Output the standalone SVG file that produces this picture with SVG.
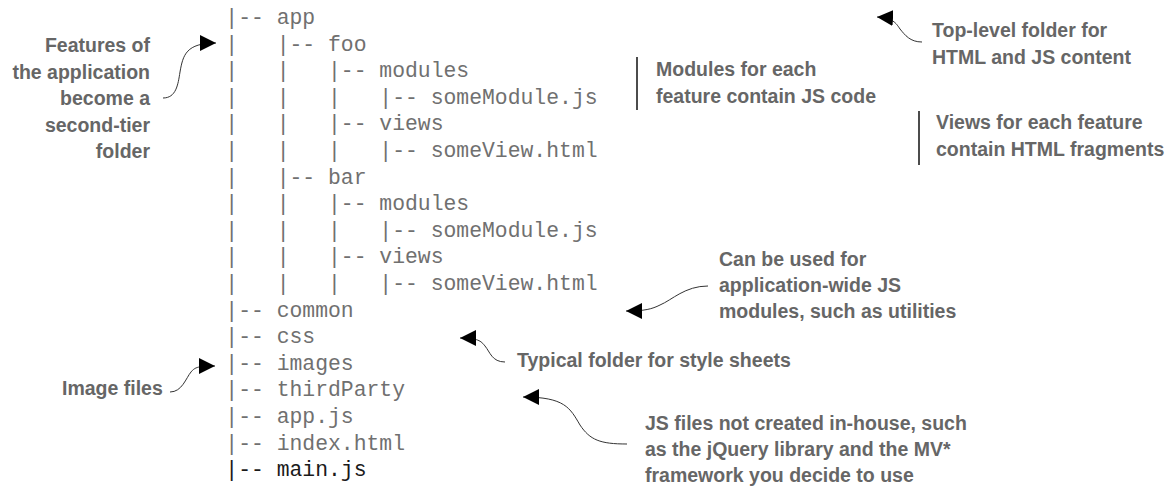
<svg xmlns="http://www.w3.org/2000/svg" width="1169" height="489" viewBox="0 0 1169 489">
<style>
.tree{font-family:"Liberation Mono","Courier New",monospace;font-size:21.4px;fill:#707070}
.tree .last{fill:#1a1a1a}
.note{font-family:"Liberation Sans",Arial,sans-serif;font-weight:bold;font-size:19.5px;fill:#666666}
.conn path{fill:none;stroke:#333333;stroke-width:1;marker-end:url(#ah)}
.bar{stroke:#111111;stroke-width:1.5}
</style>
<defs>
<marker id="ah" markerUnits="userSpaceOnUse" markerWidth="16" markerHeight="16" viewBox="0 0 14 14" refX="14" refY="7" orient="auto">
<path d="M0,0 L14,7 L0,14 Z" fill="#000000"/>
</marker>
</defs>
<rect width="1169" height="489" fill="#ffffff"/>
<g id="tree" class="tree">
<text x="225.3" y="24">|--&#160;app</text>
<text x="225.3" y="50.6">|&#160;&#160;&#160;|--&#160;foo</text>
<text x="225.3" y="77.2">|&#160;&#160;&#160;|&#160;&#160;&#160;|--&#160;modules</text>
<text x="225.3" y="103.8">|&#160;&#160;&#160;|&#160;&#160;&#160;|&#160;&#160;&#160;|--&#160;someModule.js</text>
<text x="225.3" y="130.4">|&#160;&#160;&#160;|&#160;&#160;&#160;|--&#160;views</text>
<text x="225.3" y="157">|&#160;&#160;&#160;|&#160;&#160;&#160;|&#160;&#160;&#160;|--&#160;someView.html</text>
<text x="225.3" y="183.6">|&#160;&#160;&#160;|--&#160;bar</text>
<text x="225.3" y="210.2">|&#160;&#160;&#160;|&#160;&#160;&#160;|--&#160;modules</text>
<text x="225.3" y="236.8">|&#160;&#160;&#160;|&#160;&#160;&#160;|&#160;&#160;&#160;|--&#160;someModule.js</text>
<text x="225.3" y="263.4">|&#160;&#160;&#160;|&#160;&#160;&#160;|--&#160;views</text>
<text x="225.3" y="290">|&#160;&#160;&#160;|&#160;&#160;&#160;|&#160;&#160;&#160;|--&#160;someView.html</text>
<text x="225.3" y="316.6">|--&#160;common</text>
<text x="225.3" y="343.2">|--&#160;css</text>
<text x="225.3" y="369.8">|--&#160;images</text>
<text x="225.3" y="396.4">|--&#160;thirdParty</text>
<text x="225.3" y="423">|--&#160;app.js</text>
<text x="225.3" y="449.6">|--&#160;index.html</text>
<text class="last" x="225.3" y="476.2">|--&#160;main.js</text>
</g>
<g id="note-features" class="note" text-anchor="end">
<text x="150" y="52">Features of</text>
<text x="150" y="78.5">the application</text>
<text x="150" y="105">become a</text>
<text x="150" y="131.5">second-tier</text>
<text x="150" y="158">folder</text>
</g>
<g id="note-images" class="note">
<text x="62" y="395">Image files</text>
</g>
<g id="note-toplevel" class="note">
<text x="932" y="37">Top-level folder for</text>
<text x="932" y="64">HTML and JS content</text>
</g>
<g id="note-modules" class="note">
<line class="bar" x1="637" y1="57" x2="637" y2="110"/>
<text x="656" y="76">Modules for each</text>
<text x="656" y="103">feature contain JS code</text>
</g>
<g id="note-views" class="note">
<line class="bar" x1="919" y1="111" x2="919" y2="165"/>
<text x="936" y="129">Views for each feature</text>
<text x="936" y="156">contain HTML fragments</text>
</g>
<g id="note-common" class="note">
<text x="719" y="266">Can be used for</text>
<text x="719" y="292">application-wide JS</text>
<text x="719" y="318">modules, such as utilities</text>
</g>
<g id="note-css" class="note">
<text x="517" y="367">Typical folder for style sheets</text>
</g>
<g id="note-thirdparty" class="note">
<text x="645" y="430">JS files not created in-house, such</text>
<text x="645" y="456">as the jQuery library and the MV*</text>
<text x="645" y="482">framework you decide to use</text>
</g>
<g id="connectors" class="conn">
<path d="M163,98 C176,98 178,85 180,72 C183,55 186,43 216,43"/>
<path d="M170,392 C182,392 186,378 191,372 C195,367 199,366 215,366"/>
<path d="M922,42 C910,42 905,35 900,29 C896,23 893,18 877,17"/>
<path d="M708,286 C685,286 672,300 660,305 C652,309 645,311 626,311"/>
<path d="M505,362 C492,362 490,352 485,346 C481,341 478,338 460,338"/>
<path d="M627,444 C600,444 590,440 580,425 C570,408 565,397 523,397"/>
</g>
</svg>
